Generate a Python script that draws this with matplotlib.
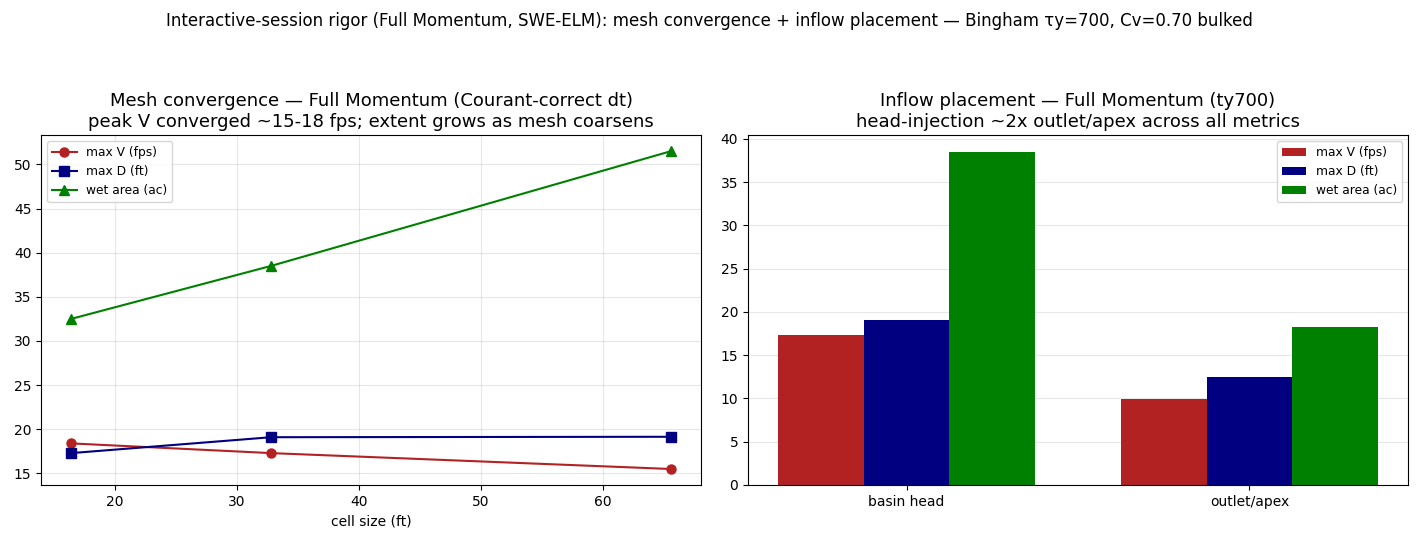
import numpy as np
import matplotlib.pyplot as plt

cell_size = [16.4, 32.8, 65.6]
mesh_v = [18.4, 17.3, 15.5]
mesh_d = [17.3, 19.1, 19.15]
mesh_area = [32.5, 38.5, 51.5]

placements = ["basin head", "outlet/apex"]
place_v = [17.3, 9.9]
place_d = [19.1, 12.5]
place_area = [38.5, 18.3]

fig, (ax1, ax2) = plt.subplots(1, 2, figsize=(14.18, 5.43), dpi=100)
fig.suptitle("Interactive-session rigor (Full Momentum, SWE-ELM): mesh convergence + inflow placement \u2014 Bingham \u03c4y=700, Cv=0.70 bulked", y=0.978)

ax1.plot(cell_size, mesh_v, "o-", color="firebrick", markersize=6.5, label="max V (fps)")
ax1.plot(cell_size, mesh_d, "s-", color="navy", markersize=6.5, label="max D (ft)")
ax1.plot(cell_size, mesh_area, "^-", color="green", markersize=6.5, label="wet area (ac)")
ax1.set_xlabel("cell size (ft)")
ax1.set_title("Mesh convergence \u2014 Full Momentum (Courant-correct dt)\npeak V converged ~15-18 fps; extent grows as mesh coarsens", fontsize=13)
ax1.grid(alpha=0.3)
ax1.legend(fontsize=8.8, loc="upper left")

x = np.arange(len(placements))
w = 0.25
ax2.bar(x - w, place_v, w, color="firebrick", label="max V (fps)")
ax2.bar(x, place_d, w, color="navy", label="max D (ft)")
ax2.bar(x + w, place_area, w, color="green", label="wet area (ac)")
ax2.set_xticks(x)
ax2.set_xticklabels(placements)
ax2.set_title("Inflow placement \u2014 Full Momentum (ty700)\nhead-injection ~2x outlet/apex across all metrics", fontsize=13)
ax2.grid(axis="y", alpha=0.3)
ax2.set_axisbelow(True)
ax2.legend(fontsize=8.8, loc="upper right")

plt.subplots_adjust(left=0.029, right=0.993, top=0.751, bottom=0.107, wspace=0.071)
plt.savefig("out.png")
